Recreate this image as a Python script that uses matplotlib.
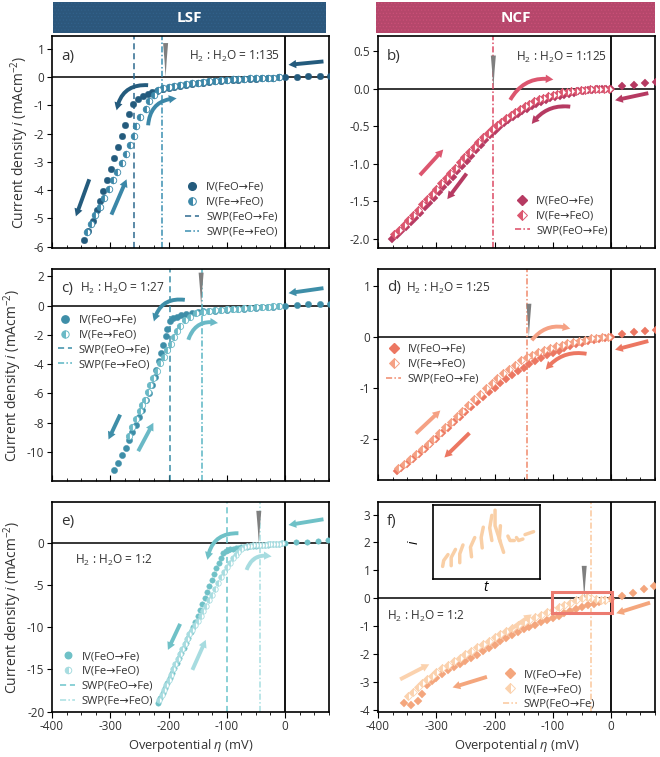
import numpy as np
import matplotlib
matplotlib.use("Agg")
import matplotlib.pyplot as plt
from matplotlib.patches import FancyArrowPatch, Rectangle
from matplotlib.lines import Line2D
from matplotlib.ticker import MultipleLocator, FormatStrFormatter

plt.rcParams['font.family'] = ['Open Sans', 'DejaVu Sans']
plt.rcParams['mathtext.fontset'] = 'custom'
plt.rcParams['mathtext.rm'] = 'Open Sans'
plt.rcParams['mathtext.it'] = 'Open Sans:italic'
plt.rcParams['axes.unicode_minus'] = False
plt.rcParams['hatch.linewidth'] = 0.5

# ---------------- data (overpotential in mV, current density in mA/cm2) ----------------
# a) LSF, H2:H2O = 1:135
eta_a_fwd = [78, 60, 40, 20, 0, -10, -20, -30, -40, -50, -60, -70, -80, -90, -100, -110, -120,
             -130, -140, -150, -160, -170, -180, -190, -200, -210, -220, -229, -236, -244, -252,
             -261, -268, -274, -280, -286, -293, -299, -306, -312, -318, -323, -330, -338, -345]
i_a_fwd = [0.03, 0.03, 0.02, 0.01, 0.0, -0.01, -0.02, -0.03, -0.04, -0.06, -0.07, -0.08, -0.09,
           -0.10, -0.11, -0.13, -0.15, -0.17, -0.20, -0.23, -0.26, -0.29, -0.32, -0.35, -0.38,
           -0.42, -0.48, -0.54, -0.61, -0.69, -0.78, -0.96, -1.30, -1.69, -2.10, -2.49, -2.88,
           -3.26, -3.64, -4.02, -4.39, -4.72, -5.10, -5.44, -5.76]
eta_a_rev = [-340, -333, -326, -318, -311, -303, -295, -288, -280, -273, -266, -260, -255, -249,
             -239, -233, -225, -218, -210, -200, -190, -180, -170, -160, -150, -140, -130, -120,
             -110, -100, -90, -80, -70, -60, -50, -40, -30, -20, -10]
i_a_rev = [-5.48, -5.20, -4.90, -4.60, -4.28, -3.98, -3.66, -3.36, -3.05, -2.73, -2.40, -2.08,
           -1.75, -1.42, -1.12, -0.84, -0.62, -0.46, -0.38, -0.34, -0.31, -0.28, -0.25, -0.22,
           -0.20, -0.17, -0.15, -0.13, -0.11, -0.09, -0.08, -0.07, -0.06, -0.05, -0.04, -0.03,
           -0.02, -0.02, -0.01]

# b) NCF, H2:H2O = 1:125
eta_b_fwd = [78, 59, 39, 19, 0, -8, -16, -24, -32, -40, -48, -56, -64, -72, -80, -88, -96, -104,
             -112, -120, -128, -136, -144, -152, -160, -168, -176, -184, -192, -200, -208, -216,
             -224, -232, -240, -248, -256, -264, -272, -280, -288, -296, -304, -312, -320, -328,
             -336, -344, -352, -360, -368, -376]
i_b_fwd = [0.09, 0.07, 0.05, 0.03, 0.0, -0.003, -0.006, -0.01, -0.015, -0.02, -0.028, -0.035,
           -0.06, -0.07, -0.08, -0.095, -0.11, -0.13, -0.15, -0.18, -0.20, -0.23, -0.27, -0.30,
           -0.34, -0.38, -0.42, -0.46, -0.51, -0.56, -0.62, -0.68, -0.75, -0.82, -0.89, -0.96,
           -1.03, -1.10, -1.17, -1.24, -1.31, -1.38, -1.45, -1.52, -1.58, -1.65, -1.72, -1.78,
           -1.84, -1.90, -1.95, -2.00]
eta_b_rev = [-372, -364, -356, -348, -340, -332, -324, -316, -308, -300, -292, -284, -276, -268,
             -260, -252, -244, -236, -228, -220, -212, -204, -196, -188, -180, -172, -164, -156,
             -148, -140, -132, -124, -116, -108, -100, -92, -84, -76, -68, -60, -52, -44, -36,
             -28, -20, -12, -4]
i_b_rev = [-1.94, -1.88, -1.82, -1.75, -1.68, -1.61, -1.54, -1.47, -1.40, -1.33, -1.26, -1.19,
           -1.12, -1.05, -0.98, -0.91, -0.84, -0.77, -0.71, -0.65, -0.59, -0.54, -0.49, -0.44,
           -0.39, -0.35, -0.31, -0.27, -0.23, -0.20, -0.17, -0.14, -0.12, -0.10, -0.08, -0.065,
           -0.05, -0.04, -0.03, -0.025, -0.02, -0.015, -0.01, -0.008, -0.005, -0.003, 0.0]

# c) LSF, H2:H2O = 1:27
eta_c_fwd = [78, 60, 40, 20, 0, -10, -20, -30, -40, -50, -60, -70, -80, -90, -100, -110, -120,
             -130, -140, -150, -160, -170, -178, -185, -192, -198, -202, -205, -209, -213, -217,
             -221, -224, -229, -234, -238, -245, -250, -256, -262, -267, -273, -280, -287, -293]
i_c_fwd = [0.14, 0.11, 0.09, 0.05, 0.0, -0.03, -0.07, -0.10, -0.13, -0.15, -0.18, -0.21, -0.24,
           -0.27, -0.29, -0.32, -0.35, -0.38, -0.40, -0.43, -0.50, -0.58, -0.68, -0.77, -0.86,
           -1.09, -1.59, -2.11, -2.68, -3.25, -3.82, -4.39, -4.91, -5.41, -5.98, -6.48, -7.11,
           -7.64, -8.16, -8.66, -9.21, -9.71, -10.23, -10.75, -11.28]
eta_c_rev = [-268, -262, -256, -249, -245, -241, -236, -231, -226, -220, -215, -208, -202, -196,
             -190, -185, -180, -172, -163, -152, -140, -130, -120, -110, -100, -90, -80, -70,
             -60, -50, -40, -30, -20, -10]
i_c_rev = [-8.9, -8.3, -7.75, -7.23, -6.83, -6.43, -5.93, -5.45, -4.95, -4.45, -3.93, -3.50,
           -3.07, -2.60, -2.16, -1.75, -1.38, -1.02, -0.75, -0.52, -0.42, -0.37, -0.33, -0.30,
           -0.27, -0.24, -0.21, -0.18, -0.15, -0.13, -0.10, -0.08, -0.05, -0.03]

# d) NCF, H2:H2O = 1:25
eta_d_fwd = [77, 59, 39, 19, 0, -10, -20, -30, -40, -50, -60, -70, -80, -90, -100, -110, -120,
             -130, -140, -150, -160, -170, -180, -190, -200, -210, -220, -230, -240, -250, -260,
             -270, -280, -290, -300, -310, -320, -330, -340, -350, -360, -368]
i_d_fwd = [0.14, 0.11, 0.09, 0.06, 0.0, -0.02, -0.04, -0.06, -0.08, -0.11, -0.14, -0.18, -0.22,
           -0.27, -0.31, -0.36, -0.41, -0.47, -0.53, -0.60, -0.67, -0.74, -0.82, -0.90, -0.99,
           -1.08, -1.17, -1.27, -1.37, -1.47, -1.57, -1.67, -1.78, -1.88, -1.99, -2.09, -2.19,
           -2.29, -2.39, -2.48, -2.56, -2.63]
eta_d_rev = [-365, -355, -345, -335, -325, -315, -305, -295, -285, -275, -265, -255, -245, -235,
             -225, -215, -205, -195, -185, -175, -165, -155, -145, -135, -125, -115, -105, -95,
             -85, -75, -65, -55, -45, -35, -25, -15, -5]
i_d_rev = [-2.57, -2.48, -2.39, -2.29, -2.19, -2.09, -1.99, -1.88, -1.77, -1.66, -1.55, -1.44,
           -1.33, -1.22, -1.11, -1.00, -0.90, -0.80, -0.71, -0.62, -0.54, -0.46, -0.40, -0.35,
           -0.30, -0.26, -0.22, -0.18, -0.15, -0.12, -0.09, -0.07, -0.05, -0.03, -0.02, -0.01,
           0.0]

# e) LSF, H2:H2O = 1:2
eta_e_fwd = [74, 57, 37, 19, 0, -5, -10, -15, -20, -25, -30, -35, -40, -45, -50, -55, -60, -65,
             -70, -75, -80, -85, -90, -94, -98, -102, -106, -110, -114, -118, -122, -126, -130,
             -134, -138, -142, -146, -150, -154, -158, -162, -166, -170, -174, -178, -182, -186,
             -190, -194, -198, -202, -206, -210, -214, -218]
i_e_fwd = [0.36, 0.28, 0.20, 0.12, 0.0, -0.02, -0.05, -0.07, -0.10, -0.13, -0.16, -0.19, -0.22,
           -0.26, -0.30, -0.34, -0.38, -0.42, -0.46, -0.50, -0.54, -0.58, -0.64, -0.70, -0.80,
           -0.95, -1.2, -1.7, -2.3, -3.0, -3.7, -4.4, -5.1, -5.8, -6.5, -7.2, -7.9, -8.6, -9.3,
           -10.0, -10.6, -11.2, -11.8, -12.4, -13.0, -13.6, -14.2, -14.8, -15.4, -16.0, -16.6,
           -17.2, -17.8, -18.4, -19.0]
eta_e_rev = [-216, -212, -208, -204, -200, -196, -192, -188, -184, -180, -176, -172, -168, -164,
             -160, -155, -150, -145, -140, -135, -130, -125, -120, -115, -110, -105, -100, -95,
             -90, -85, -80, -75, -70, -65, -60, -55, -50, -45, -40, -35, -30, -25, -20, -15,
             -10, -5]
i_e_rev = [-18.6, -18.0, -17.4, -16.8, -16.2, -15.6, -15.0, -14.4, -13.8, -13.2, -12.6, -12.0,
           -11.4, -10.8, -10.3, -9.7, -9.2, -8.6, -8.0, -7.4, -6.8, -6.1, -5.4, -4.7, -4.0,
           -3.4, -2.8, -2.3, -1.8, -1.4, -1.0, -0.7, -0.5, -0.38, -0.30, -0.25, -0.22, -0.20,
           -0.18, -0.16, -0.14, -0.12, -0.10, -0.08, -0.05, -0.03]

# f) NCF, H2:H2O = 1:2
eta_f_fwd = [73, 56, 37, 19, 0, -10, -20, -30, -40, -50, -60, -70, -80, -90, -100, -110, -120,
             -130, -140, -150, -160, -170, -180, -190, -200, -210, -220, -230, -240, -250, -260,
             -270, -280, -290, -300, -308, -316, -325, -332, -343, -355]
i_f_fwd = [0.44, 0.32, 0.20, 0.09, -0.02, -0.08, -0.14, -0.20, -0.26, -0.32, -0.40, -0.47, -0.54,
           -0.62, -0.70, -0.79, -0.87, -0.95, -1.03, -1.12, -1.22, -1.32, -1.43, -1.54, -1.66,
           -1.78, -1.90, -2.02, -2.13, -2.24, -2.35, -2.46, -2.59, -2.73, -2.87, -2.98, -3.10,
           -3.42, -3.69, -3.84, -3.75]
eta_f_rev = [-348, -340, -332, -324, -316, -308, -300, -290, -280, -270, -260, -250, -240, -230,
             -220, -210, -200, -190, -180, -170, -160, -150, -140, -130, -120, -110, -100, -90,
             -80, -70, -60, -50, -42, -34, -26, -18, -10]
i_f_rev = [-3.50, -3.35, -3.20, -3.03, -2.90, -2.78, -2.66, -2.52, -2.39, -2.26, -2.13, -2.00,
           -1.88, -1.76, -1.64, -1.52, -1.40, -1.29, -1.18, -1.07, -0.97, -0.87, -0.77, -0.68,
           -0.59, -0.50, -0.41, -0.32, -0.24, -0.16, -0.08, -0.01, 0.04, 0.0, -0.03, -0.05,
           -0.05]

# switching-point potentials (dashed: FeO->Fe, dash-dot: Fe->FeO)
swp_dash = {'a': -259, 'c': -198, 'e': -100}
swp_dashdot = {'a': -211, 'b': -203, 'c': -142, 'd': -144, 'e': -43, 'f': -34}
# grey wedge markers: eta position and top current
wedge_eta = {'a': -205, 'b': -202, 'c': -144, 'd': -141, 'e': -45, 'f': -46}
wedge_top = {'a': 1.2, 'b': 0.44, 'c': 2.25, 'd': 0.65, 'e': 3.85, 'f': 1.16}

ratio_labels = {'a': '1:135', 'b': '1:125', 'c': '1:27', 'd': '1:25', 'e': '1:2', 'f': '1:2'}

# ---------------- styling ----------------
W, H = 660, 757
TXT = '#333333'
fig = plt.figure(figsize=(W / 100, H / 100), dpi=100)

def px_axes(left, top, right, bottom):
    return fig.add_axes([left / W, 1 - bottom / H, (right - left) / W, (bottom - top) / H])

def sweep_arrow(ax, p0, p1, color, rad=0.0):
    ax.add_patch(FancyArrowPatch(p0, p1, connectionstyle=f'arc3,rad={rad}',
                                 arrowstyle='simple,head_length=0.55,head_width=0.6,tail_width=0.28',
                                 mutation_scale=10, color=color, lw=0, zorder=6,
                                 shrinkA=0, shrinkB=0))

def base(ax, ylim, yticks, bottom_row, fmt='%d'):
    ax.set_xlim(-400, 75.5)
    ax.set_ylim(*ylim)
    ax.set_yticks(yticks)
    ax.yaxis.set_major_formatter(FormatStrFormatter(fmt))
    ax.xaxis.set_major_locator(MultipleLocator(100))
    ax.xaxis.set_minor_locator(MultipleLocator(25))
    ax.axhline(0, color='black', lw=1.1, zorder=1)
    ax.axvline(0, color='black', lw=1.3, zorder=1)
    for s in ax.spines.values():
        s.set_linewidth(1.2)
    ax.tick_params(axis='y', direction='out', length=3.5, width=0.8, labelsize=8.5, pad=2,
                   labelcolor=TXT)
    d = 'out' if bottom_row else 'in'
    ax.tick_params(axis='x', which='major', direction=d, length=4, width=0.8, labelsize=8.5,
                   labelbottom=bottom_row, labelcolor=TXT, pad=2)
    ax.tick_params(axis='x', which='minor', direction=d, length=2.2, width=0.6)

def wedge(ax, key):
    ax.annotate('', xy=(wedge_eta[key], 0.0), xytext=(wedge_eta[key], wedge_top[key]),
                arrowprops=dict(arrowstyle='wedge,tail_width=0.36,shrink_factor=0.45',
                                color='#7f7f7f', lw=0, shrinkA=0, shrinkB=0), zorder=7)

def series(ax, ef, jf, er, jr, marker, ms, cf, cr):
    ax.plot(ef, jf, ls='none', marker=marker, ms=ms, color=cf, mec=cf, mew=0.3, zorder=3)
    ax.plot(er, jr, ls='none', marker=marker, ms=ms, mfc=cr, mfcalt='white', fillstyle='left',
            mec=cr, mew=0.6, zorder=4)

def legend(ax, marker, ms, cf, cr, swp_cols, anchor, loc):
    h = [Line2D([], [], ls='none', marker=marker, ms=ms + 0.8, color=cf, mec=cf),
         Line2D([], [], ls='none', marker=marker, ms=ms + 0.8, mfc=cr, mfcalt='white',
                fillstyle='left', mec=cr, mew=0.7)]
    labels = ['IV(FeO→Fe)', 'IV(Fe→FeO)']
    if len(swp_cols) == 2:
        h.append(Line2D([], [], color=swp_cols[0], lw=1.1, dashes=(4, 2.5)))
        labels.append('SWP(FeO→Fe)')
        h.append(Line2D([], [], color=swp_cols[1], lw=1.1, dashes=(4, 1.5, 1, 1.5)))
        labels.append('SWP(Fe→FeO)')
    else:
        h.append(Line2D([], [], color=swp_cols[0], lw=1.1, dashes=(4, 1.5, 1, 1.5)))
        labels.append('SWP(FeO→Fe)')
    ax.legend(h, labels, loc=loc, bbox_to_anchor=anchor, frameon=False, fontsize=8.0,
              handlelength=1.3, handletextpad=0.6, labelspacing=0.35, borderaxespad=0,
              borderpad=0, labelcolor=TXT)

def ratio_text(ax, x, y, key, ha='left'):
    ax.text(x, y, 'H$_2$ : H$_2$O = ' + ratio_labels[key], transform=ax.transAxes, ha=ha,
            va='center', fontsize=8.6, color=TXT, zorder=8)

def letter(ax, key, x=0.032, y=0.905):
    ax.text(x, y, key + ')', transform=ax.transAxes, fontsize=11, va='center',
            color=TXT, zorder=8)

ylab = 'Current density $i$ (mAcm$^{-2}$)'
xlab = 'Overpotential $\\eta$ (mV)'

# header bars
for (x0, x1, col, name) in [(53, 326, '#2c577c', 'LSF'), (376, 655, '#b5476b', 'NCF')]:
    hatch_col = np.clip(np.array(matplotlib.colors.to_rgb(col)) * 1.12, 0, 1)
    fig.patches.append(Rectangle((x0 / W, 1 - 33 / H), (x1 - x0) / W, 31 / H,
                                 transform=fig.transFigure, facecolor=col,
                                 edgecolor=hatch_col, hatch='.....', lw=0))
    fig.text((x0 + x1) / 2 / W, 1 - 17.5 / H, name, color='white', fontsize=11,
             fontweight='bold', ha='center', va='center')

# ---- a) ----
cA, cA2 = '#245b7d', '#3b87a8'
ax = px_axes(52, 36, 329, 248)
base(ax, (-6.05, 1.45), np.arange(-6, 2, 1), False)
ax.axvline(swp_dash['a'], color='#2d6a8f', lw=1.1, dashes=(4, 2.5), zorder=2)
ax.axvline(swp_dashdot['a'], color='#3b8fb2', lw=1.1, dashes=(4, 1.5, 1, 1.5), zorder=2)
series(ax, eta_a_fwd, i_a_fwd, eta_a_rev, i_a_rev, 'o', 4.7, cA, cA2)
sweep_arrow(ax, (66, 0.55), (6, 0.43), cA)
sweep_arrow(ax, (-235, -0.29), (-289, -1.18), cA, 0.45)
sweep_arrow(ax, (-235, -1.71), (-186, -0.76), cA2, -0.45)
sweep_arrow(ax, (-336, -3.62), (-359, -4.93), cA)
sweep_arrow(ax, (-298, -4.87), (-272, -3.62), cA2)
wedge(ax, 'a')
letter(ax, 'a')
ratio_text(ax, 0.823, 0.905, 'a', ha='right')
legend(ax, 'o', 4.7, cA, cA2, ['#2d6a8f', '#3b8fb2'], (0.48, 0.05), 'lower left')
ax.set_ylabel(ylab, fontsize=10, color=TXT, labelpad=2)

# ---- b) ----
cB, cB2 = '#b63a62', '#dc566f'
ax = px_axes(378, 36, 655, 248)
base(ax, (-2.12, 0.7), np.arange(-2.0, 0.6, 0.5), False, '%.1f')
ax.axvline(swp_dashdot['b'], color='#dc4a64', lw=1.1, dashes=(4, 1.5, 1, 1.5), zorder=2)
series(ax, eta_b_fwd, i_b_fwd, eta_b_rev, i_b_rev, 'D', 4.0, cB, cB2)
sweep_arrow(ax, (64, -0.06), (7, -0.155), cB)
sweep_arrow(ax, (-173, -0.15), (-99, 0.12), cB2, -0.35)
sweep_arrow(ax, (-70, -0.24), (-136, -0.47), cB, 0.3)
sweep_arrow(ax, (-328, -1.15), (-288, -0.81), cB2)
sweep_arrow(ax, (-248, -1.13), (-281, -1.47), cB)
wedge(ax, 'b')
letter(ax, 'b')
ratio_text(ax, 0.827, 0.90, 'b', ha='right')
legend(ax, 'D', 4.0, cB, cB2, ['#dc4a64'], (0.495, 0.055), 'lower left')

# ---- c) ----
cC, cC2 = '#3e8ea8', '#6ab9c6'
ax = px_axes(52, 269, 329, 481)
base(ax, (-12.0, 2.5), np.arange(-10, 3, 2), False)
ax.axvline(swp_dash['c'], color='#3a8ea8', lw=1.1, dashes=(4, 2.5), zorder=2)
ax.axvline(swp_dashdot['c'], color='#5ab5c4', lw=1.1, dashes=(4, 1.5, 1, 1.5), zorder=2)
series(ax, eta_c_fwd, i_c_fwd, eta_c_rev, i_c_rev, 'o', 4.5, cC, cC2)
sweep_arrow(ax, (66, 1.19), (6, 0.85), cC)
sweep_arrow(ax, (-172, 0.39), (-225, -1.09), cC, 0.45)
sweep_arrow(ax, (-166, -2.34), (-115, -1.2), cC2, -0.45)
sweep_arrow(ax, (-283, -7.46), (-303, -9.16), cC)
sweep_arrow(ax, (-252, -9.96), (-226, -8.02), cC2)
wedge(ax, 'c')
letter(ax, 'c', y=0.91)
ratio_text(ax, 0.10, 0.91, 'c')
legend(ax, 'o', 4.5, cC, cC2, ['#3a8ea8', '#5ab5c4'], (0.02, 0.785), 'upper left')
ax.set_ylabel(ylab, fontsize=10, color=TXT, labelpad=2)

# ---- d) ----
cD, cD2 = '#ec7762', '#f5a184'
ax = px_axes(378, 269, 655, 480)
base(ax, (-2.8, 1.33), np.arange(-2, 2, 1), False)
ax.axvline(swp_dashdot['d'], color='#f08a6c', lw=1.1, dashes=(4, 1.5, 1, 1.5), zorder=2)
series(ax, eta_d_fwd, i_d_fwd, eta_d_rev, i_d_rev, 'D', 4.0, cD, cD2)
sweep_arrow(ax, (64, -0.08), (7, -0.25), cD)
sweep_arrow(ax, (-136, -0.065), (-70, 0.16), cD2, -0.35)
sweep_arrow(ax, (-42, -0.33), (-112, -0.64), cD, 0.3)
sweep_arrow(ax, (-335, -1.89), (-293, -1.44), cD2)
sweep_arrow(ax, (-243, -1.88), (-286, -2.36), cD)
wedge(ax, 'd')
letter(ax, 'd', y=0.91)
ratio_text(ax, 0.10, 0.91, 'd')
legend(ax, 'D', 4.0, cD, cD2, ['#f08a6c'], (0.03, 0.645), 'upper left')

# ---- e) ----
cE, cE2 = '#6fc1c7', '#a7dce0'
ax = px_axes(52, 502, 329, 712)
base(ax, (-20.05, 4.9), np.arange(-20, 1, 5), True)
ax.axvline(swp_dash['e'], color='#6cc5cc', lw=1.1, dashes=(4, 2.5), zorder=2)
ax.axvline(swp_dashdot['e'], color='#a8dfe2', lw=1.1, dashes=(4, 1.5, 1, 1.5), zorder=2)
series(ax, eta_e_fwd, i_e_fwd, eta_e_rev, i_e_rev, 'o', 3.9, cE, cE2)
sweep_arrow(ax, (66, 2.85), (6, 2.17), cE)
sweep_arrow(ax, (-80, 1.19), (-133, -1.98), cE, 0.45)
sweep_arrow(ax, (-66, -3.17), (-23, -1.59), cE2, -0.45)
sweep_arrow(ax, (-180, -9.58), (-201, -12.67), cE)
sweep_arrow(ax, (-159, -15.05), (-136, -11.48), cE2)
wedge(ax, 'e')
letter(ax, 'e')
ratio_text(ax, 0.083, 0.724, 'e')
legend(ax, 'o', 3.9, cE, cE2, ['#6cc5cc', '#a8dfe2'], (0.03, 0.025), 'lower left')
ax.set_ylabel(ylab, fontsize=10, color=TXT, labelpad=2)
ax.set_xlabel(xlab, fontsize=9.3, color=TXT, labelpad=3)

# ---- f) ----
cF, cF2 = '#f4a67d', '#fbd2ae'
ax = px_axes(378, 502, 655, 712)
base(ax, (-4.08, 3.45), np.arange(-4, 4, 1), True)
ax.axvline(swp_dashdot['f'], color='#fbc89c', lw=1.1, dashes=(4, 1.5, 1, 1.5), zorder=2)
series(ax, eta_f_fwd, i_f_fwd, eta_f_rev, i_f_rev, 'D', 3.8, cF, cF2)
sweep_arrow(ax, (67, -0.16), (9, -0.54), cF)
sweep_arrow(ax, (-176, -1.17), (-136, -0.58), cF2)
sweep_arrow(ax, (-213, -2.82), (-272, -3.2), cF)
sweep_arrow(ax, (-362, -2.91), (-312, -2.37), cF2)
ax.add_patch(Rectangle((-102, -0.54), 103, 0.78, fill=False, ec='#ec7b70', lw=2.2, zorder=8))
wedge(ax, 'f')
letter(ax, 'f')
ratio_text(ax, 0.033, 0.457, 'f')
legend(ax, 'D', 3.8, cF, cF2, ['#fbc89c'], (0.45, 0.01), 'lower left')
ax.set_xlabel(xlab, fontsize=9.3, color=TXT, labelpad=3)

# inset of f): current transients
stroke_x = [[0.09, 0.10, 0.14], [0.17, 0.17, 0.21], [0.25, 0.25, 0.28], [0.36, 0.35, 0.39],
            [0.46, 0.45, 0.47], [0.55, 0.53, 0.55], [0.63, 0.58, 0.58], [0.66, 0.62, 0.63],
            [0.70, 0.72, 0.76], [0.78, 0.80, 0.84], [0.86, 0.90, 0.94]]
stroke_y = [[0.17, 0.25, 0.33], [0.18, 0.29, 0.40], [0.22, 0.34, 0.46], [0.30, 0.43, 0.56],
            [0.42, 0.56, 0.70], [0.52, 0.69, 0.86], [0.50, 0.72, 0.93], [0.36, 0.54, 0.72],
            [0.58, 0.52, 0.52], [0.56, 0.52, 0.54], [0.60, 0.62, 0.64]]
axi = px_axes(433, 505, 540, 579)
for sx, sy in zip(stroke_x, stroke_y):
    axi.plot(sx, sy, color='#f9cfa6', lw=2.5, solid_capstyle='round')
axi.set_xlim(0, 1)
axi.set_ylim(0, 1)
axi.set_xticks([])
axi.set_yticks([])
for s in axi.spines.values():
    s.set_linewidth(1.2)
axi.set_xlabel('$t$', fontsize=10, labelpad=1)
axi.set_ylabel('$i$', fontsize=10, labelpad=8)

fig.savefig('out.png', dpi=100)
